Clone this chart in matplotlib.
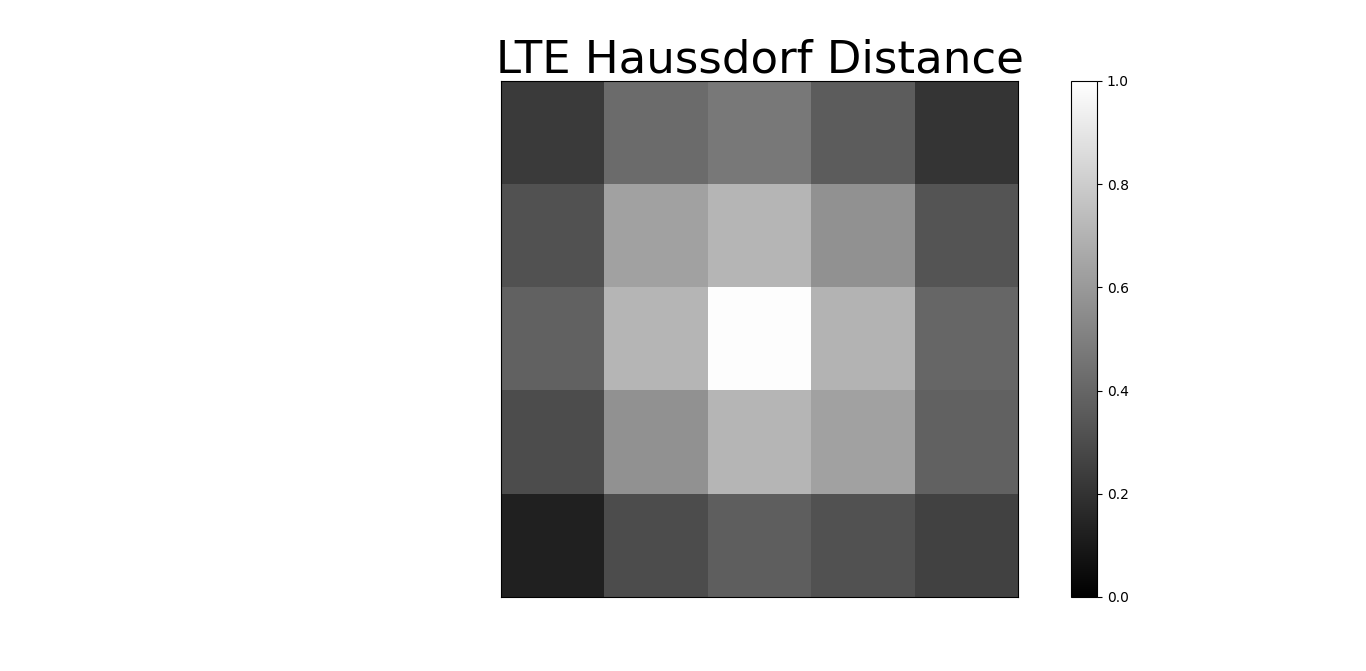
import numpy as np
import matplotlib
matplotlib.use("Agg")
import matplotlib.pyplot as plt

# normalised distances, 5x5 grid (row 0 = top)
row_0 = [0.23, 0.42, 0.47, 0.36, 0.21]
row_1 = [0.32, 0.63, 0.71, 0.57, 0.33]
row_2 = [0.38, 0.71, 0.99, 0.70, 0.40]
row_3 = [0.30, 0.57, 0.71, 0.63, 0.38]
row_4 = [0.125, 0.30, 0.37, 0.32, 0.26]
cbar_ticks = [0.0, 0.2, 0.4, 0.6, 0.8, 1.0]

grid = np.array([row_0, row_1, row_2, row_3, row_4])

W, H = 1366, 671
fig = plt.figure(figsize=(W / 100, H / 100), dpi=100)

ax = fig.add_axes([501 / W, (H - 597) / H, 517 / W, 516 / H])
im = ax.imshow(grid, cmap="gray", vmin=0, vmax=1, aspect="auto", interpolation="nearest")
ax.set_xticks([])
ax.set_yticks([])
ax.set_title("LTE Haussdorf Distance", fontsize=32.4, pad=2)

cax = fig.add_axes([1071 / W, (H - 597) / H, 26 / W, 516 / H])
cb = fig.colorbar(im, cax=cax, ticks=cbar_ticks)
cb.ax.tick_params(labelsize=10)

fig.savefig("out.png", dpi=100)
